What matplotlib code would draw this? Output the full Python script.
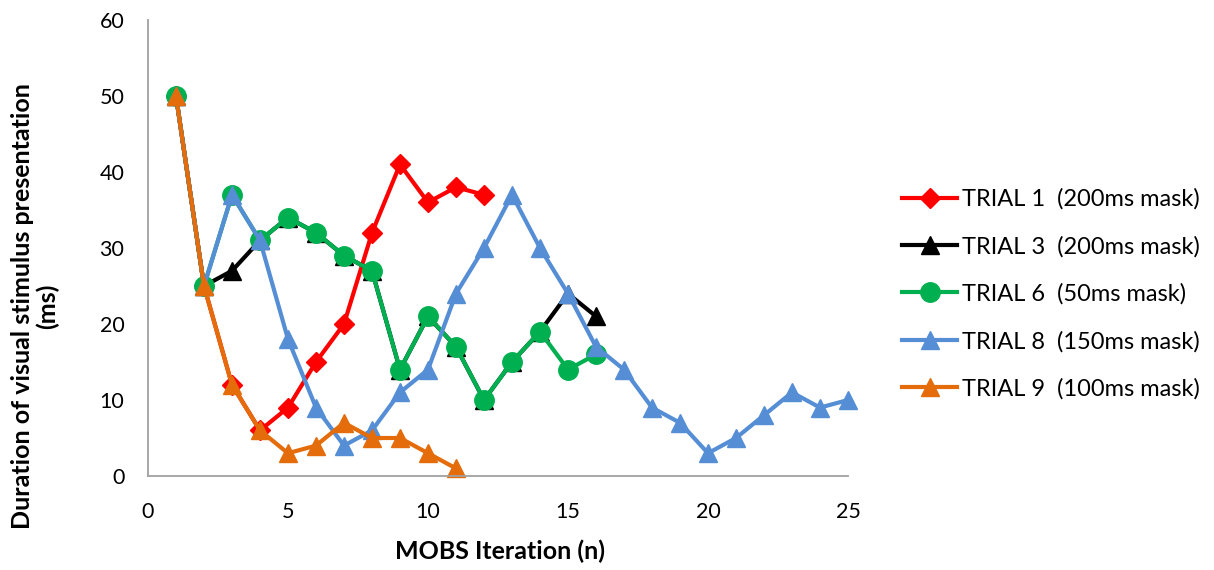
import matplotlib
matplotlib.use("Agg")
import matplotlib.pyplot as plt

plt.rcParams['font.family'] = ['Lato', 'DejaVu Sans']

iter_1 = [1, 2, 3, 4, 5, 6, 7, 8, 9, 10, 11, 12]
trial_1 = [50, 25, 12, 6, 9, 15, 20, 32, 41, 36, 38, 37]

iter_3 = [1, 2, 3, 4, 5, 6, 7, 8, 9, 10, 11, 12, 13, 14, 15, 16]
trial_3 = [50, 25, 27, 31, 34, 32, 29, 27, 14, 21, 17, 10, 15, 19, 24, 21]

iter_6 = [1, 2, 3, 4, 5, 6, 7, 8, 9, 10, 11, 12, 13, 14, 15, 16]
trial_6 = [50, 25, 37, 31, 34, 32, 29, 27, 14, 21, 17, 10, 15, 19, 14, 16]

iter_8 = list(range(1, 26))
trial_8 = [50, 25, 37, 31, 18, 9, 4, 6, 11, 14, 24, 30, 37, 30, 24, 17, 14, 9, 7, 3, 5, 8, 11, 9, 10]

iter_9 = [1, 2, 3, 4, 5, 6, 7, 8, 9, 10, 11]
trial_9 = [50, 25, 12, 6, 3, 4, 7, 5, 5, 3, 1]

labels = ["TRIAL 1  (200ms mask)", "TRIAL 3  (200ms mask)", "TRIAL 6  (50ms mask)",
          "TRIAL 8  (150ms mask)", "TRIAL 9  (100ms mask)"]
colors = ["#FF0000", "#000000", "#00B050", "#558ED5", "#E46C0A"]
markers = ["D", "^", "o", "^", "^"]
msizes = [10, 13, 14, 13, 13]

fig = plt.figure(figsize=(12.14, 5.70), dpi=100)
ax = fig.add_axes([148/1214, 1 - 476/570, 700/1214, 456/570])

series = [(iter_1, trial_1), (iter_3, trial_3), (iter_6, trial_6), (iter_8, trial_8), (iter_9, trial_9)]
for (xs, ys), lab, c, m, ms in zip(series, labels, colors, markers, msizes):
    ax.plot(xs, ys, color=c, lw=3, marker=m, markersize=ms, label=lab, clip_on=False)

ax.set_xlim(0, 25)
ax.set_ylim(0, 60)
ax.set_xticks([0, 5, 10, 15, 20, 25])
ax.set_yticks([0, 10, 20, 30, 40, 50, 60])
ax.tick_params(length=0, labelsize=15.5)
ax.tick_params(axis='y', pad=17)
ax.tick_params(axis='x', pad=19)
for s in ["top", "right"]:
    ax.spines[s].set_visible(False)
for s in ["left", "bottom"]:
    ax.spines[s].set_color("#A0A0A0")
    ax.spines[s].set_linewidth(1.3)

fig.text(500/1214, 1 - 551/570, "MOBS Iteration (n)", fontsize=18,
         fontweight="bold", ha="center", va="center")
fig.text(35/1214, 1 - 306/570, "Duration of visual stimulus presentation\n(ms)", fontsize=18,
         fontweight="bold", rotation=90, ha="center", va="center", multialignment="center",
         linespacing=1.05)

fig.legend(loc="center left", bbox_to_anchor=(902/1214, 1 - 294/570), frameon=False,
           fontsize=17, handlelength=2.33, labelspacing=1.1, handletextpad=0.2,
           borderpad=0, borderaxespad=0)

fig.savefig("out.png", dpi=100)
